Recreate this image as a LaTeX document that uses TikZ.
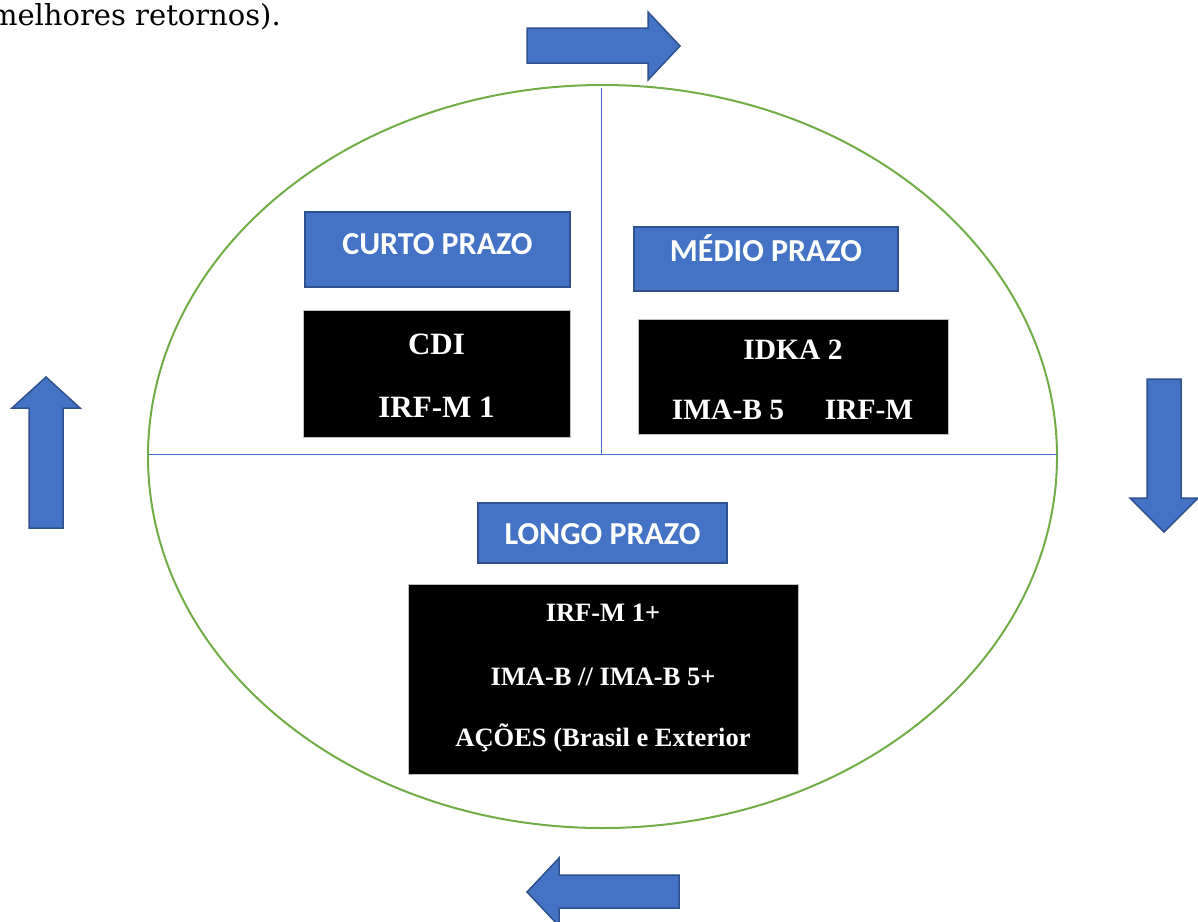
\documentclass[tikz,border=0pt]{standalone}
\usepackage{fontspec}
\usetikzlibrary{shapes.geometric}
\setmainfont{Liberation Serif}
\newfontfamily\calfont{Carlito}
\newfontfamily\bookfont{DejaVu Serif}
\definecolor{boxblue}{HTML}{4472C4}
\definecolor{boxedge}{HTML}{2F528F}
\definecolor{ringgreen}{HTML}{70AD47}
\begin{document}
\begin{tikzpicture}[x=1pt,y=-1pt,
  bluebox/.style={fill=boxblue,draw=boxedge,line width=1.5pt},
  blackbox/.style={fill=black,draw=black!25,line width=0.8pt},
  head/.style={text=white,font=\calfont\bfseries\fontsize{32}{34}\selectfont,inner sep=0pt},
  item/.style={text=white,font=\bfseries\fontsize{31}{33}\selectfont,inner sep=0pt},
  itemmd/.style={text=white,font=\bfseries\fontsize{29.5}{31}\selectfont,inner sep=0pt},
  itemsm/.style={text=white,font=\bfseries\fontsize{26.5}{28}\selectfont,inner sep=0pt},
  bigarrow/.style={fill=boxblue,draw=boxedge,line width=1.5pt,line join=miter},
  divider/.style={draw=boxblue,line width=1pt}]
\useasboundingbox (0,0) rectangle (1198,921);
% top-left clipped text
\node[anchor=base east,inner sep=0pt,font=\bookfont\fontsize{29}{31}\selectfont] (txt) at (281,25) {melhores retornos).};
% ring and dividers
\node[draw=ringgreen,line width=2pt,ellipse,minimum width=909pt,minimum height=743pt,inner sep=0pt] (ring) at (602.5,456.5) {};
\coordinate (hl) at (148,454);
\coordinate (hr) at (1057,454);
\coordinate (vt) at (601,88);
\coordinate (vb) at (601,454);
\draw[divider] (hl) -- (hr);
\draw[divider] (vt) -- (vb);
% boxes
\path[bluebox] (305,212) rectangle (570,287);
\node[head] (curto) at (437.5,244) {CURTO PRAZO};
\path[blackbox] (303,310) rectangle (570,437);
\node[item] (cdi) at (436.5,344) {CDI};
\node[item] (irfm1) at (436.5,407) {IRF-M 1};
\path[bluebox] (634,227) rectangle (898,291);
\node[head] (medio) at (766,248) {MÉDIO PRAZO};
\path[blackbox] (638,319) rectangle (948,434);
\node[itemmd] (idka) at (793,350) {IDKA 2};
\node[itemmd] (imab5) at (728,410) {IMA-B 5};
\node[itemmd] (irfm) at (869,410) {IRF-M};
\path[bluebox] (478,503) rectangle (727,563);
\node[head] (longo) at (602.5,534) {LONGO PRAZO};
\path[blackbox] (408,584) rectangle (798,774);
\node[itemsm] (l1) at (603,613) {IRF-M 1+};
\node[itemsm] (l2) at (603,677) {IMA-B // IMA-B 5+};
\node[itemsm] (l3) at (603,738) {AÇÕES (Brasil e Exterior};
% cycle arrows
\draw[bigarrow] (527,28) -- (648,28) -- (648,12) -- (680,46) -- (648,80) -- (648,63) -- (527,63) -- cycle;
\draw[bigarrow] (1147,379) -- (1181,379) -- (1181,498) -- (1198,498) -- (1164,532) -- (1130,498) -- (1147,498) -- cycle;
\draw[bigarrow] (679,875) -- (559,875) -- (559,858) -- (527,892) -- (559,926) -- (559,908) -- (679,908) -- cycle;
\draw[bigarrow] (29,528) -- (29,408) -- (12,408) -- (46,377) -- (80,408) -- (63,408) -- (63,528) -- cycle;
\end{tikzpicture}
\end{document}
